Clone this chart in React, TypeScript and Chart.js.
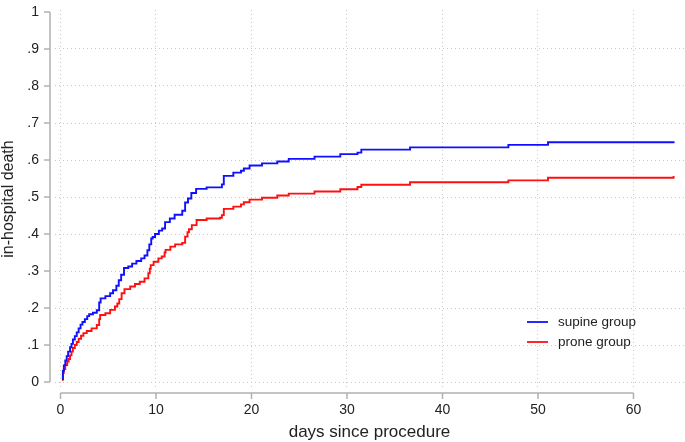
import React, { useEffect, useRef } from "react";
import { Chart, registerables } from "chart.js";

Chart.register(...registerables);

// ---- data ----
const supineDays = [0.15, 0.25, 0.35, 0.5, 0.65, 0.8, 1.0, 1.15, 1.3, 1.5, 1.7, 1.9, 2.1, 2.3, 2.55, 2.8, 3.0, 3.4, 3.8, 4.05, 4.2, 4.7, 5.2, 5.5, 5.85, 6.1, 6.35, 6.65, 7.1, 7.5, 7.95, 8.45, 8.8, 9.1, 9.3, 9.5, 9.65, 9.9, 10.3, 10.65, 10.95, 11.45, 11.95, 12.75, 13.05, 13.35, 13.7, 14.2, 15.3, 16.9, 17.1, 18.1, 18.9, 19.2, 19.8, 21.1, 22.7, 23.9, 26.6, 29.3, 31.1, 31.5, 36.6, 46.9, 51.05, 64.2];
const supineDeath = [0.008, 0.03, 0.045, 0.058, 0.07, 0.082, 0.094, 0.103, 0.115, 0.124, 0.134, 0.145, 0.155, 0.162, 0.17, 0.178, 0.183, 0.187, 0.194, 0.215, 0.226, 0.232, 0.24, 0.248, 0.26, 0.275, 0.29, 0.308, 0.312, 0.32, 0.327, 0.334, 0.342, 0.356, 0.372, 0.388, 0.392, 0.4, 0.409, 0.415, 0.432, 0.442, 0.452, 0.463, 0.485, 0.496, 0.511, 0.522, 0.526, 0.534, 0.557, 0.566, 0.571, 0.577, 0.585, 0.591, 0.596, 0.603, 0.609, 0.616, 0.62, 0.628, 0.634, 0.641, 0.648, 0.651];

const proneDays = [0.15, 0.25, 0.35, 0.5, 0.7, 0.85, 1.0, 1.15, 1.3, 1.5, 1.7, 1.9, 2.15, 2.4, 2.75, 3.25, 3.8, 4.05, 4.15, 4.7, 5.2, 5.7, 5.95, 6.15, 6.4, 6.7, 7.3, 7.8, 8.3, 8.8, 9.2, 9.35, 9.45, 9.75, 10.25, 10.6, 10.9, 11.0, 11.5, 12.0, 12.75, 13.05, 13.3, 13.45, 13.75, 14.25, 15.3, 16.7, 16.9, 17.1, 18.1, 18.9, 19.2, 19.8, 21.1, 22.7, 23.9, 26.6, 29.3, 31.1, 31.5, 36.6, 46.9, 51.05, 64.2];
const proneDeath = [0.006, 0.025, 0.035, 0.046, 0.055, 0.062, 0.072, 0.082, 0.092, 0.1, 0.108, 0.117, 0.125, 0.132, 0.138, 0.145, 0.154, 0.17, 0.181, 0.186, 0.195, 0.204, 0.212, 0.224, 0.24, 0.251, 0.258, 0.265, 0.271, 0.28, 0.294, 0.306, 0.316, 0.325, 0.334, 0.339, 0.35, 0.357, 0.366, 0.372, 0.376, 0.393, 0.405, 0.413, 0.424, 0.438, 0.442, 0.444, 0.451, 0.468, 0.474, 0.48, 0.486, 0.493, 0.498, 0.504, 0.509, 0.515, 0.521, 0.527, 0.533, 0.54, 0.545, 0.552, 0.557];

const seriesLabels = ["supine group", "prone group"];
const xTickValues = [0, 10, 20, 30, 40, 50, 60];
const yTickValues = [0, 0.1, 0.2, 0.3, 0.4, 0.5, 0.6, 0.7, 0.8, 0.9, 1];
const yTickLabels = ["0", ".1", ".2", ".3", ".4", ".5", ".6", ".7", ".8", ".9", "1"];
const xTitle = "days since procedure";
const yTitle = "in-hospital death";

const FONT = '"Liberation Sans", Arial, sans-serif';
const AXIS_COLOR = "#b0b0b0";
const GRID_COLOR = "#c8c8c8";
const TEXT_COLOR = "#222222";

const toPoints = (xs: number[], ys: number[]) => xs.map((x, i) => ({ x, y: ys[i] }));

const axesPlugin = {
  id: "stataAxes",
  afterDraw(chart: any) {
    const { ctx, chartArea } = chart;
    const xs = chart.scales.x;
    const ys = chart.scales.y;
    ctx.save();
    ctx.strokeStyle = AXIS_COLOR;
    ctx.lineWidth = 1.5;
    // y axis
    const ax = chartArea.left - 5;
    ctx.beginPath();
    ctx.moveTo(ax, ys.getPixelForValue(0));
    ctx.lineTo(ax, ys.getPixelForValue(1));
    ctx.stroke();
    yTickValues.forEach((v) => {
      const py = ys.getPixelForValue(v);
      ctx.beginPath();
      ctx.moveTo(ax - 6, py);
      ctx.lineTo(ax, py);
      ctx.stroke();
    });
    // x axis
    const ay = chartArea.bottom + 5;
    ctx.beginPath();
    ctx.moveTo(xs.getPixelForValue(0), ay);
    ctx.lineTo(xs.getPixelForValue(60), ay);
    ctx.stroke();
    xTickValues.forEach((v) => {
      const px = xs.getPixelForValue(v);
      ctx.beginPath();
      ctx.moveTo(px, ay);
      ctx.lineTo(px, ay + 6);
      ctx.stroke();
    });
    // legend
    const lx = 527;
    const ly = 322;
    ctx.font = `13.5px ${FONT}`;
    ctx.textBaseline = "middle";
    ctx.textAlign = "left";
    chart.data.datasets.forEach((ds: any, i: number) => {
      const y = ly + i * 20;
      ctx.strokeStyle = ds.borderColor;
      ctx.lineWidth = 1.8;
      ctx.beginPath();
      ctx.moveTo(lx, y);
      ctx.lineTo(lx + 21, y);
      ctx.stroke();
      ctx.fillStyle = TEXT_COLOR;
      ctx.fillText(ds.label, lx + 31, y);
    });
    ctx.restore();
  },
};

export default function App() {
  const ref = useRef<HTMLCanvasElement | null>(null);
  useEffect(() => {
    document.body.style.margin = "0";
    const canvas = ref.current;
    if (!canvas) return;
    const chart = new Chart(canvas, {
      type: "line",
      data: {
        datasets: [
          {
            label: seriesLabels[0],
            data: toPoints(supineDays, supineDeath),
            borderColor: "#1010ff",
            borderWidth: 1.9,
            pointRadius: 0,
            stepped: true,
            fill: false,
          },
          {
            label: seriesLabels[1],
            data: toPoints(proneDays, proneDeath),
            borderColor: "#ff1010",
            borderWidth: 1.9,
            pointRadius: 0,
            stepped: true,
            fill: false,
          },
        ],
      },
      options: {
        responsive: false,
        animation: false,
        devicePixelRatio: 1,
        layout: { padding: { top: 10, right: 1, left: 0, bottom: 0 } },
        plugins: { legend: { display: false }, tooltip: { enabled: false } },
        scales: {
          x: {
            type: "linear",
            min: -0.576,
            max: 65.29,
            afterBuildTicks: (s: any) => {
              s.ticks = xTickValues.map((v) => ({ value: v }));
            },
            afterFit: (s: any) => {
              s.height = 54;
              s.paddingLeft = 0;
              s.paddingRight = 0;
            },
            grid: { color: GRID_COLOR, lineWidth: 1, drawTicks: false },
            border: { display: false, dash: [1, 3] },
            ticks: {
              padding: 13.5,
              color: TEXT_COLOR,
              font: { family: FONT, size: 14, lineHeight: 1.2 },
              maxRotation: 0,
              autoSkip: false,
              callback: (v: any) => String(v),
            },
            title: {
              display: true,
              text: xTitle,
              color: TEXT_COLOR,
              font: { family: FONT, size: 17, lineHeight: 1 },
              padding: { top: 0, bottom: 1 },
            },
          },
          y: {
            type: "linear",
            min: -0.0162,
            max: 1.0054,
            afterBuildTicks: (s: any) => {
              s.ticks = yTickValues.map((v) => ({ value: v }));
            },
            afterFit: (s: any) => {
              s.width = 55;
              s.paddingTop = 0;
              s.paddingBottom = 0;
            },
            grid: {
              color: (c: any) => (c.tick && c.tick.value === 1 ? "rgba(0,0,0,0)" : GRID_COLOR),
              lineWidth: 1,
              drawTicks: false,
            },
            border: { display: false, dash: [1, 3] },
            ticks: {
              padding: 16,
              color: TEXT_COLOR,
              font: { family: FONT, size: 14 },
              autoSkip: false,
              callback: (v: any) => {
                const i = yTickValues.findIndex((t) => Math.abs(t - v) < 1e-6);
                return i >= 0 ? yTickLabels[i] : "";
              },
            },
            title: {
              display: true,
              text: yTitle,
              color: TEXT_COLOR,
              font: { family: FONT, size: 16, lineHeight: 1 },
              padding: { top: 1, bottom: 0 },
            },
          },
        },
      },
      plugins: [axesPlugin],
    });
    return () => chart.destroy();
  }, []);
  return (
    <div style={{ width: 685, height: 442 }}>
      <canvas ref={ref} width={685} height={442} style={{ display: "block" }} />
    </div>
  );
}
